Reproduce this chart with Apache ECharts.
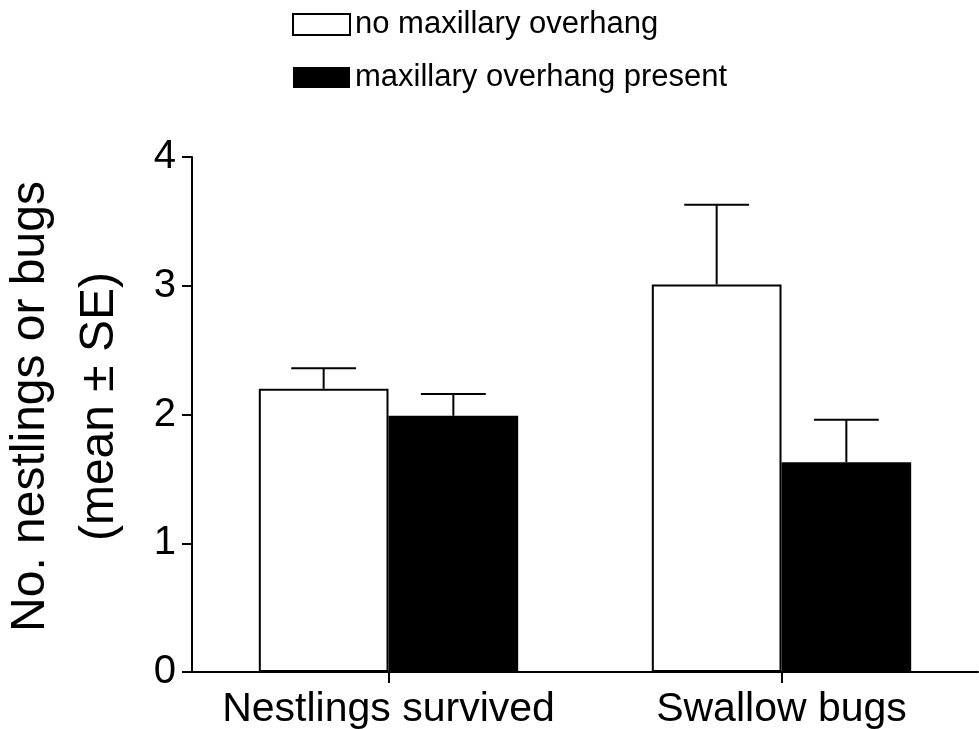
<!DOCTYPE html>
<html>
<head>
<meta charset="utf-8">
<script src="https://cdn.jsdelivr.net/npm/echarts@6/dist/echarts.min.js"></script>
<style>
    html, body { margin: 0; padding: 0; background: #fff; }
    #main { width: 979px; height: 729px; }
</style>
</head>
<body>
<div id="main"></div>
<script>
// 分类
var categories = ['Nestlings survived', 'Swallow bugs'];
// 图例名称
var seriesNames = ['no maxillary overhang', 'maxillary overhang present'];
// 均值
var noOverhangMean = [2.20, 3.01];
var overhangMean = [1.99, 1.63];
// 均值 + SE
var noOverhangUpper = [2.36, 3.63];
var overhangUpper = [2.16, 1.96];
// y 轴刻度
var yTicks = [0, 1, 2, 3, 4];

var FONT = 'Liberation Sans';
var BAR_GAP_CATEGORY = 0.34;

// 误差线
function renderErrorBar(groupIndex) {
    return function (params, api) {
        var idx = api.value(0);
        var top = api.coord([idx, api.value(1)]);
        var base = api.coord([idx, api.value(2)]);
        var band = api.size([1, 0])[0];
        var barWidth = band * (1 - BAR_GAP_CATEGORY) / 2;
        var x = top[0] + (groupIndex === 0 ? -barWidth / 2 : barWidth / 2);
        var half = barWidth / 4;
        var style = { stroke: '#000', lineWidth: 2 };
        return {
            type: 'group',
            children: [
                { type: 'line', shape: { x1: x, y1: base[1], x2: x, y2: top[1] }, style: style },
                { type: 'line', shape: { x1: x - half, y1: top[1], x2: x + half, y2: top[1] }, style: style }
            ]
        };
    };
}

function buildErrorData(mean, upper) {
    var arr = [];
    for (var i = 0; i < mean.length; i++) {
        arr.push([i, upper[i], mean[i]]);
    }
    return arr;
}

var myChart = echarts.init(document.getElementById('main'));

var option = {
    animation: false,
    backgroundColor: '#fff',
    textStyle: { fontFamily: FONT },
    legend: {
        orient: 'vertical',
        left: 287,
        top: 4,
        itemWidth: 57,
        itemHeight: 21,
        itemGap: 22,
        icon: 'rect',
        textStyle: { fontFamily: FONT, fontSize: 31, color: '#000', padding: [0, 0, 0, 0] },
        data: [
            { name: seriesNames[0], itemStyle: { color: '#fff', borderColor: '#000', borderWidth: 2 } },
            { name: seriesNames[1], itemStyle: { color: '#000', borderColor: '#000', borderWidth: 0 } }
        ]
    },
    grid: {
        left: 192,
        right: 1,
        top: 157,
        bottom: 57,
        containLabel: false,
        outerBoundsMode: 'none'
    },
    xAxis: {
        type: 'category',
        data: categories,
        axisLine: { lineStyle: { color: '#000', width: 2 } },
        axisTick: { show: true, alignWithLabel: true, length: 11, lineStyle: { color: '#000', width: 2 } },
        axisLabel: { fontFamily: FONT, fontSize: 41, color: '#000', margin: 17, interval: 0 },
        splitLine: { show: false }
    },
    yAxis: {
        type: 'value',
        min: yTicks[0],
        max: yTicks[yTicks.length - 1],
        interval: 1,
        name: 'No. nestlings or bugs\n(mean ± SE)',
        nameLocation: 'middle',
        nameRotate: 90,
        nameGap: 58,
        nameTextStyle: { fontFamily: FONT, fontSize: 48, color: '#000', lineHeight: 69, padding: [0, 0, 0, 16] },
        axisLine: { show: true, lineStyle: { color: '#000', width: 2 } },
        axisTick: { show: true, length: 10, lineStyle: { color: '#000', width: 2 } },
        axisLabel: { fontFamily: FONT, fontSize: 40, color: '#000', margin: 16 },
        splitLine: { show: false }
    },
    series: [
        {
            name: seriesNames[0],
            type: 'bar',
            data: noOverhangMean,
            barGap: '0%',
            barCategoryGap: (BAR_GAP_CATEGORY * 100) + '%',
            itemStyle: { color: '#fff', borderColor: '#000', borderWidth: 2 }
        },
        {
            name: seriesNames[1],
            type: 'bar',
            data: overhangMean,
            itemStyle: { color: '#000', borderColor: '#000', borderWidth: 0 }
        },
        {
            name: 'err0',
            type: 'custom',
            renderItem: renderErrorBar(0),
            data: buildErrorData(noOverhangMean, noOverhangUpper),
            encode: { x: 0, y: [1, 2] },
            z: 3
        },
        {
            name: 'err1',
            type: 'custom',
            renderItem: renderErrorBar(1),
            data: buildErrorData(overhangMean, overhangUpper),
            encode: { x: 0, y: [1, 2] },
            z: 3
        }
    ]
};

myChart.setOption(option);
</script>
</body>
</html>
